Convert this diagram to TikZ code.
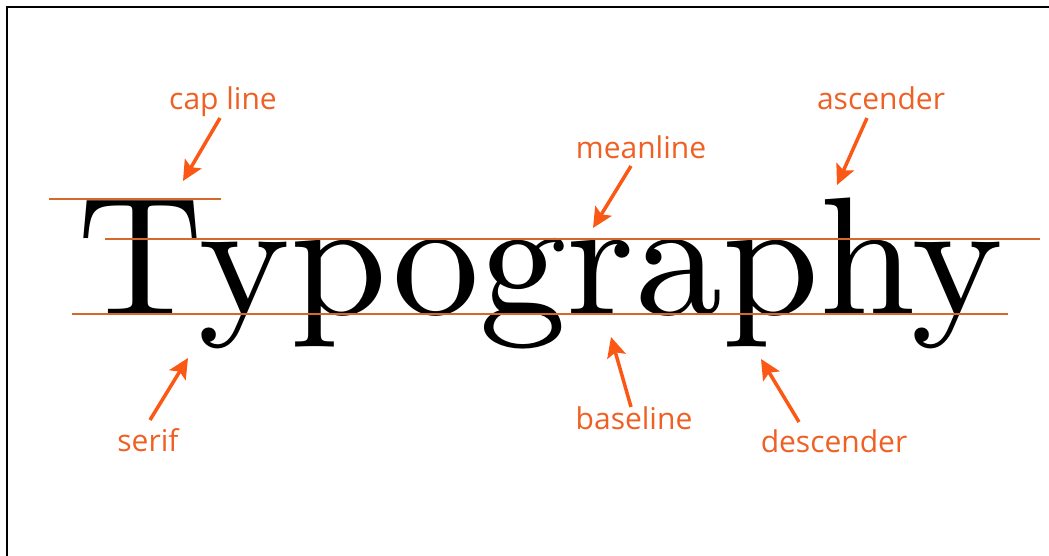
\documentclass[tikz,border=0pt]{standalone}
\usepackage{fontspec}
\newfontfamily\labelfont{Open Sans}
\usetikzlibrary{arrows.meta}
\definecolor{lblorange}{RGB}{238,96,36}
\definecolor{arrorange}{RGB}{250,88,20}
\definecolor{lineorange}{RGB}{214,104,44}
\tikzset{
  lbl/.style={anchor=base, inner sep=0pt, text=lblorange, font=\labelfont\fontsize{30}{30}\selectfont},
  pointer/.style={draw=arrorange, line width=3.5pt, -{Stealth[length=20pt,width=19pt,inset=4pt]}},
  guide/.style={draw=lineorange, line width=1.2pt},
}
\begin{document}
\begin{tikzpicture}[x=1pt,y=-1pt]
\useasboundingbox (0,0) rectangle (1049,556);
\begin{scope}
\clip (0,0) rectangle (1049,556);
\draw[line width=2.6pt] (7,7) rectangle (1070,580);
\end{scope}
% main word
\node[anchor=base west, inner sep=0pt] (word) at (77,314) {\scalebox{18.87}[18.67]{\fontsize{9}{11}\selectfont Typography}};
% guide lines
\coordinate (capL) at (49,199);  \coordinate (capR) at (221,199);
\coordinate (meanL) at (105,239);  \coordinate (meanR) at (1040,239);
\coordinate (baseL) at (72,314);   \coordinate (baseR) at (1008,314);
\draw[guide] (capL) -- (capR);
\draw[guide] (meanL) -- (meanR);
\draw[guide] (baseL) -- (baseR);
% labels
\node[lbl] (cap) at (223,110) {cap line};
\node[lbl] (asc) at (881,110) {ascender};
\node[lbl] (mean) at (641,159) {meanline};
\node[lbl] (serif) at (148,451) {serif};
\node[lbl] (base) at (634,429) {baseline};
\node[lbl] (desc) at (834,452) {descender};
% arrows
\coordinate (capT) at (220,118);   \coordinate (capH) at (183,181);
\coordinate (ascT) at (867,118);   \coordinate (ascH) at (837,185);
\coordinate (meanT) at (631,166);  \coordinate (meanH) at (593,228);
\coordinate (baseT) at (631,407);  \coordinate (baseH) at (611,337);
\coordinate (descT) at (799,422);  \coordinate (descH) at (761,359);
\coordinate (serifT) at (150,420); \coordinate (serifH) at (188,358);
\draw[pointer] (capT) -- (capH);
\draw[pointer] (ascT) -- (ascH);
\draw[pointer] (meanT) -- (meanH);
\draw[pointer] (baseT) -- (baseH);
\draw[pointer] (descT) -- (descH);
\draw[pointer] (serifT) -- (serifH);
\end{tikzpicture}
\end{document}
